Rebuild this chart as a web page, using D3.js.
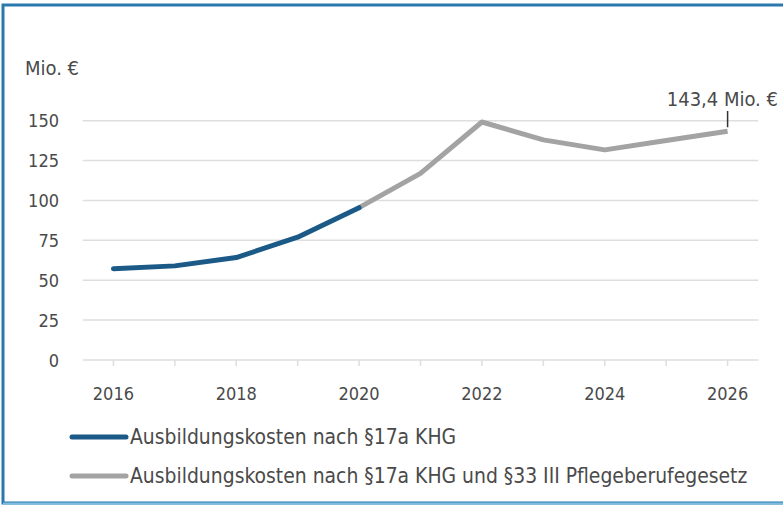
<!DOCTYPE html>
<html><head><meta charset="utf-8">
<script src="https://cdn.jsdelivr.net/npm/d3@7"></script>
<style>
html,body{margin:0;padding:0;background:#fff;}
svg text{font-family:"DejaVu Sans Condensed","DejaVu Sans",sans-serif;fill:#4a4a4a;}
</style></head>
<body>
<svg id="chart" width="783" height="505"></svg>
<script>
const years = [2016,2017,2018,2019,2020,2021,2022,2023,2024,2025,2026];
const khgValues = [57.2,59.0,64.2,77.0,95.5];
const khgYears = [2016,2017,2018,2019,2020];
const pflegeYears = [2020,2021,2022,2023,2024,2025,2026];
const pflegeValues = [95.5,117.0,149.2,138.0,131.7,137.6,143.4];
const yTicks = [0,25,50,75,100,125,150];
const xTickLabels = [2016,2018,2020,2022,2024,2026];
const legendLabels = ["Ausbildungskosten nach §17a KHG","Ausbildungskosten nach §17a KHG und §33 III Pflegeberufegesetz"];
const unitLabel = "Mio. €";
const annotationText = "143,4 Mio. €";

const svg = d3.select("#chart");
const blue = "#1b5a87", grey = "#a3a3a3";

// frame
svg.append("rect").attr("x",3).attr("y",5).attr("width",790).attr("height",498)
  .attr("fill","none").attr("stroke","#2a78ad").attr("stroke-width",3);
svg.append("line").attr("x1",3).attr("x2",783).attr("y1",503.5).attr("y2",503.5)
  .attr("stroke","#7fbbe0").attr("stroke-width",2);

const x = d3.scaleBand().domain(years).range([82.7,758.3]);
const xc = d => x(d) + x.bandwidth()/2;
const y = d3.scaleLinear().domain([0,150]).range([360,120.7]);

// gridlines
svg.append("g").selectAll("line").data(yTicks).join("line")
  .attr("x1",82.7).attr("x2",758.3).attr("y1",d=>y(d)).attr("y2",d=>y(d))
  .attr("stroke","#dedede").attr("stroke-width",1.5);

// y labels
svg.append("g").selectAll("text").data(yTicks).join("text")
  .attr("x",59).attr("y",d=>y(d)+6.5).attr("text-anchor","end")
  .attr("font-size",18).text(d=>d);

// x ticks
svg.append("g").selectAll("line").data(years).join("line")
  .attr("x1",d=>xc(d)).attr("x2",d=>xc(d)).attr("y1",360).attr("y2",366)
  .attr("stroke","#dedede").attr("stroke-width",1.5);
svg.append("g").selectAll("text").data(xTickLabels).join("text")
  .attr("x",d=>xc(d)).attr("y",399.5).attr("text-anchor","middle")
  .attr("font-size",18).text(d=>d);

svg.append("text").attr("x",25).attr("y",75).attr("font-size",20).text(unitLabel);

const line = d3.line().x(d=>xc(d[0])).y(d=>y(d[1]));
svg.append("path").datum(pflegeYears.map((yr,i)=>[yr,pflegeValues[i]]))
  .attr("d",line).attr("fill","none").attr("stroke",grey).attr("stroke-width",5)
  .attr("stroke-linejoin","round");
svg.append("path").datum(khgYears.map((yr,i)=>[yr,khgValues[i]]))
  .attr("d",line).attr("fill","none").attr("stroke",blue).attr("stroke-width",5)
  .attr("stroke-linecap","round").attr("stroke-linejoin","round");

// annotation
const lastX = xc(2026), lastY = y(pflegeValues[pflegeValues.length-1]);
svg.append("line").attr("x1",lastX).attr("x2",lastX).attr("y1",lastY-4).attr("y2",111)
  .attr("stroke","#333").attr("stroke-width",1.5);
svg.append("text").attr("x",778).attr("y",106).attr("text-anchor","end")
  .attr("font-size",20).text(annotationText);

// legend
const legColors = [blue, grey];
const lg = svg.append("g").selectAll("g").data(legendLabels).join("g")
  .attr("transform",(d,i)=>`translate(0,${437+i*39})`);
lg.append("line").attr("x1",72).attr("x2",126).attr("y1",0).attr("y2",0)
  .attr("stroke",(d,i)=>legColors[i]).attr("stroke-width",5).attr("stroke-linecap","round");
lg.append("text").attr("x",130).attr("y",7).attr("font-size",20.9).text(d=>d);
</script>
</body></html>
